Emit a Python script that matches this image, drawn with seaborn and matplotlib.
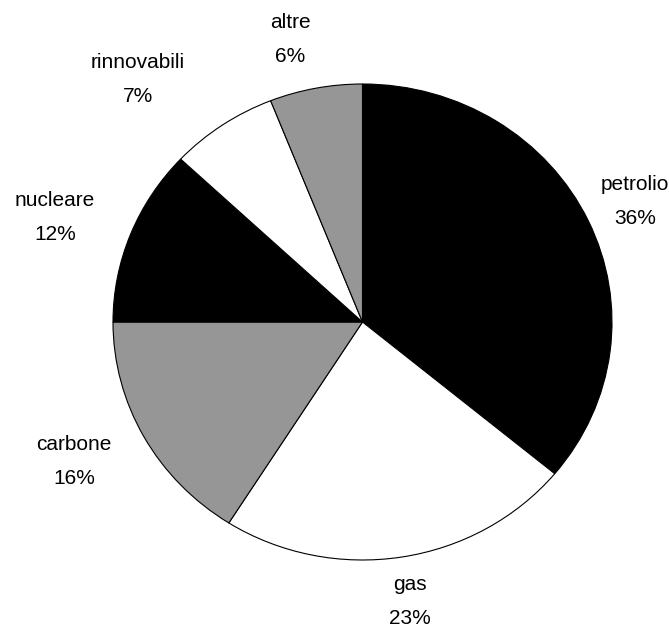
import matplotlib
matplotlib.use("Agg")
import matplotlib.pyplot as plt
import seaborn as sns
import numpy as np

# Italian primary energy mix (share, %)
sources = ["petrolio", "gas", "carbone", "nucleare", "rinnovabili", "altre"]
shares = [36, 23, 16, 12, 7, 6]
slice_colors = ["#000000", "#ffffff", "#969696", "#000000", "#ffffff", "#969696"]

# label block centres in pixels (x from left, y from top)
label_px = [(635, 202), (410, 601), (74, 462), (55, 217), (138, 79), (290, 40)]

sns.set_theme(style="white")
plt.rcParams["font.family"] = ["Liberation Sans", "DejaVu Sans"]

W, H, DPI = 669, 626, 100
fig = plt.figure(figsize=(W / DPI, H / DPI), dpi=DPI)
ax = fig.add_axes([0, 0, 1, 1])

ax.pie(shares, colors=slice_colors, startangle=90, counterclock=False,
       radius=1.0, wedgeprops=dict(edgecolor="black", linewidth=0.8))

# slightly elliptical pie: horizontal and vertical radii in pixels
cx, cy, rx, ry = 362.5, 322.0, 249.5, 238.0
ax.set_aspect("auto")
ax.set_xlim(-cx / rx, (W - cx) / rx)
ax.set_ylim(-(H - cy) / ry, cy / ry)
ax.axis("off")

for name, val, (px, py) in zip(sources, shares, label_px):
    ax.text((px - cx) / rx, (cy - py) / ry, f"{name}\n{val}%",
            ha="center", va="center", multialignment="center",
            fontsize=15, linespacing=2.0, color="black")

fig.savefig("out.png", dpi=DPI, facecolor="white")
